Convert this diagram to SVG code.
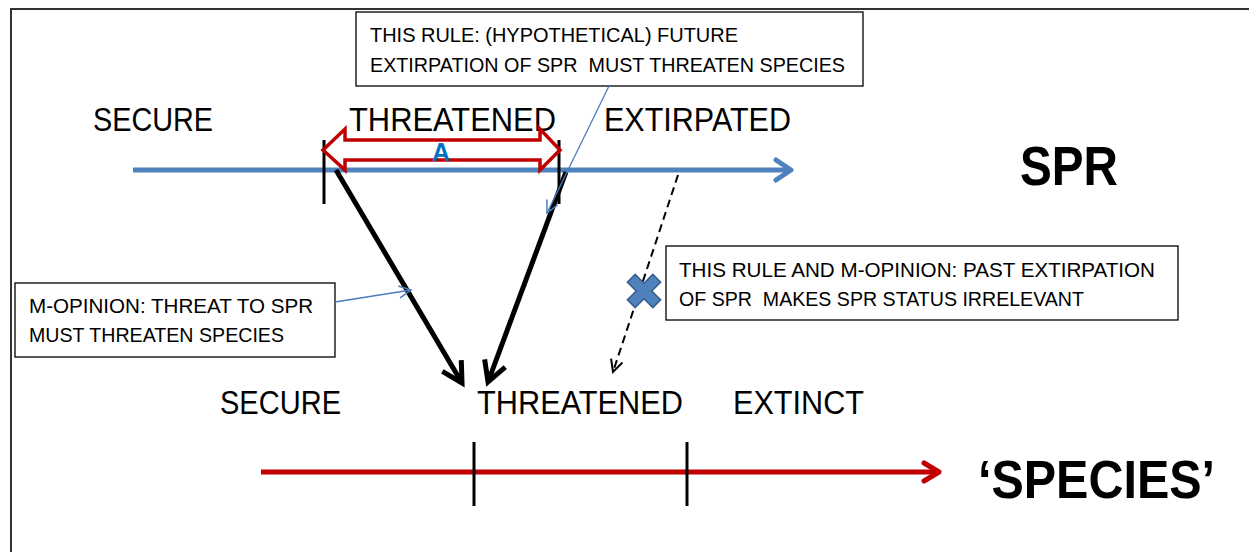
<svg xmlns="http://www.w3.org/2000/svg" width="1249" height="552" viewBox="0 0 1249 552">
<style>
text{font-family:"Liberation Sans",Arial,sans-serif;fill:#000;white-space:pre}
.lbl{font-size:34px}
.box{font-size:21px}
.title{font-size:56px;font-weight:bold}
.bx{fill:#fff;stroke:#000;stroke-width:1.3}
</style>
<defs>
<marker id="mBlue" markerUnits="userSpaceOnUse" viewBox="-20 -14 24 28" refX="0" refY="0" markerWidth="24" markerHeight="28" orient="auto" overflow="visible">
<path d="M-15,-10 L0,0 L-15,10" fill="none" stroke="#4F81BD" stroke-width="5" stroke-linecap="round" stroke-linejoin="round"/>
</marker>
<marker id="mRed" markerUnits="userSpaceOnUse" viewBox="-20 -14 24 28" refX="0" refY="0" markerWidth="24" markerHeight="28" orient="auto" overflow="visible">
<path d="M-15,-9 L0,0 L-15,9" fill="none" stroke="#C00000" stroke-width="5" stroke-linecap="round" stroke-linejoin="round"/>
</marker>
<marker id="mBlack" markerUnits="userSpaceOnUse" viewBox="-26 -16 30 32" refX="0" refY="0" markerWidth="30" markerHeight="32" orient="auto" overflow="visible">
<path d="M-20,-11 L0,0 L-20,11" fill="none" stroke="#000" stroke-width="5" stroke-linejoin="miter"/>
</marker>
<marker id="mThin" markerUnits="userSpaceOnUse" viewBox="-14 -8 16 16" refX="0" refY="0" markerWidth="16" markerHeight="16" orient="auto" overflow="visible">
<path d="M-12,-6 L0,0 L-12,6" fill="none" stroke="#4A7EBB" stroke-width="1.5"/>
</marker>
<marker id="mDash" markerUnits="userSpaceOnUse" viewBox="-14 -8 16 16" refX="0" refY="0" markerWidth="16" markerHeight="16" orient="auto" overflow="visible">
<path d="M-12,-6 L0,0 L-12,6" fill="none" stroke="#000" stroke-width="2"/>
</marker>
</defs>
<rect width="1249" height="552" fill="#fff"/>
<rect x="11" y="9" width="1260" height="570" fill="none" stroke="#333" stroke-width="2"/>

<g id="spr-axis">
<line x1="133" y1="170" x2="791" y2="170" stroke="#4F81BD" stroke-width="5" marker-end="url(#mBlue)"/>
<text class="lbl" x="93" y="131" textLength="120" lengthAdjust="spacingAndGlyphs">SECURE</text>
<text class="lbl" x="349" y="131" textLength="207" lengthAdjust="spacingAndGlyphs">THREATENED</text>
<text class="lbl" x="604" y="131" textLength="187" lengthAdjust="spacingAndGlyphs">EXTIRPATED</text>
<line x1="324" y1="140" x2="324" y2="204" stroke="#000" stroke-width="3"/>
<line x1="559" y1="140" x2="559" y2="204" stroke="#000" stroke-width="3"/>
</g>

<g id="range-a">
<path d="M323,150 L345,129 L345,140 L540,140 L540,129 L560,150 L540,170 L540,160 L345,160 L345,170 Z" fill="none" stroke="#C00000" stroke-width="3.5" stroke-linejoin="miter"/>
<text x="441" y="161" text-anchor="middle" style="font-size:25px;font-weight:bold;fill:#0070C0">A</text>
</g>

<g id="spr-title">
<text class="title" x="1020" y="185" textLength="98" lengthAdjust="spacingAndGlyphs">SPR</text>
</g>

<g id="species-axis">
<line x1="261" y1="472" x2="939" y2="472" stroke="#C00000" stroke-width="5" marker-end="url(#mRed)"/>
<text class="lbl" x="220" y="414" textLength="121" lengthAdjust="spacingAndGlyphs">SECURE</text>
<text class="lbl" x="477" y="414" textLength="206" lengthAdjust="spacingAndGlyphs">THREATENED</text>
<text class="lbl" x="733" y="414" textLength="131" lengthAdjust="spacingAndGlyphs">EXTINCT</text>
<line x1="474" y1="442" x2="474" y2="506" stroke="#000" stroke-width="3"/>
<line x1="687" y1="442" x2="687" y2="506" stroke="#000" stroke-width="3"/>
</g>

<g id="species-title">
<text class="title" x="978" y="498" style="font-size:54px" textLength="237" lengthAdjust="spacingAndGlyphs">‘SPECIES’</text>
</g>

<g id="box-this-rule">
<rect class="bx" x="356" y="12" width="507" height="74"/>
<text class="box" x="370" y="42" textLength="368" lengthAdjust="spacingAndGlyphs">THIS RULE: (HYPOTHETICAL) FUTURE</text>
<text class="box" x="370" y="72" textLength="475" lengthAdjust="spacingAndGlyphs">EXTIRPATION OF SPR  MUST THREATEN SPECIES</text>
</g>

<g id="box-m-opinion">
<rect class="bx" x="15" y="283" width="320" height="74"/>
<text class="box" x="29" y="313" textLength="284" lengthAdjust="spacingAndGlyphs">M-OPINION: THREAT TO SPR</text>
<text class="box" x="29" y="342" textLength="255" lengthAdjust="spacingAndGlyphs">MUST THREATEN SPECIES</text>
</g>

<g id="box-past">
<rect class="bx" x="666" y="246" width="512" height="74"/>
<text class="box" x="679" y="277" textLength="476" lengthAdjust="spacingAndGlyphs">THIS RULE AND M-OPINION: PAST EXTIRPATION</text>
<text class="box" x="679" y="306" textLength="405" lengthAdjust="spacingAndGlyphs">OF SPR  MAKES SPR STATUS IRRELEVANT</text>
</g>

<g id="connectors">
<line x1="336" y1="170" x2="462" y2="383" stroke="#000" stroke-width="5" marker-end="url(#mBlack)"/>
<line x1="566" y1="172" x2="488" y2="382" stroke="#000" stroke-width="5" marker-end="url(#mBlack)"/>
<line x1="678" y1="175" x2="613" y2="372" stroke="#000" stroke-width="2" stroke-dasharray="8,5" marker-end="url(#mDash)"/>
<line x1="609" y1="86" x2="547" y2="213" stroke="#4A7EBB" stroke-width="1.3" marker-end="url(#mThin)"/>
<line x1="335" y1="302" x2="411" y2="290" stroke="#4A7EBB" stroke-width="1.3" marker-end="url(#mThin)"/>
</g>

<g id="blocked-x">
<polygon transform="translate(644,291) rotate(45)" points="-5.5,-18 5.5,-18 5.5,-5.5 18,-5.5 18,5.5 5.5,5.5 5.5,18 -5.5,18 -5.5,5.5 -18,5.5 -18,-5.5 -5.5,-5.5" fill="#4F81BD" stroke="#385D8A" stroke-width="1.5"/>
</g>
</svg>
